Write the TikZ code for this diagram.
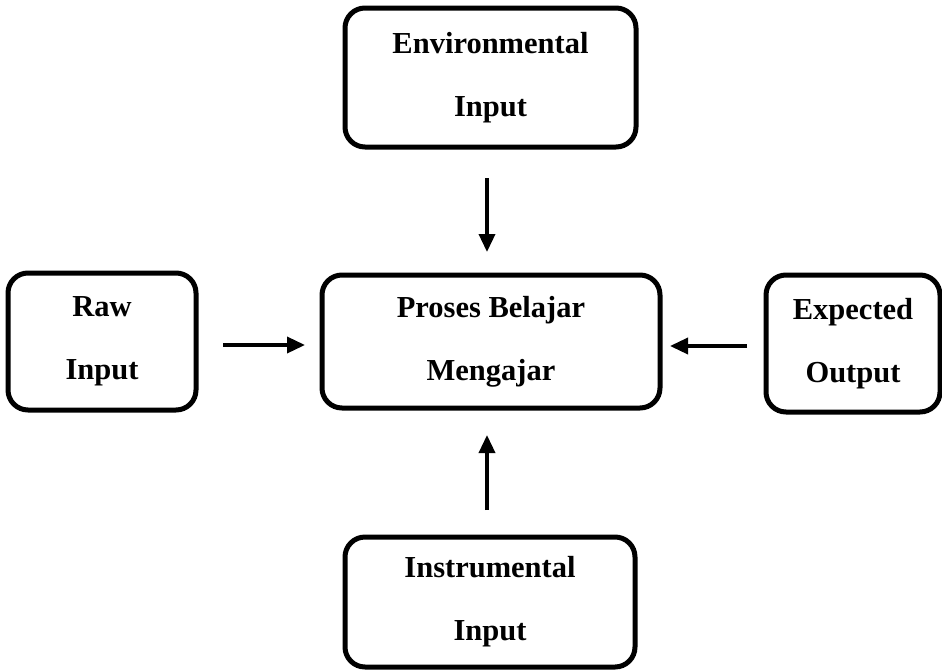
\documentclass[tikz,border=0pt]{standalone}
\usepackage{fontspec}
\setmainfont{Liberation Serif}
\usetikzlibrary{arrows.meta}
\begin{document}
\begin{tikzpicture}[x=1pt,y=-1pt,
  box/.style={draw, line width=5pt, rounded corners=20pt, inner sep=0pt, outer sep=0pt,
    align=center, font=\fontsize{30.5}{63}\selectfont\bfseries},
  arr/.style={line width=3.5pt, -{Triangle[length=18pt,width=16pt]}}]
\useasboundingbox (0,0) rectangle (942,670);
\node[box, minimum width=291pt, minimum height=139pt] (env) at (490.5,77.5) {Environmental\\Input};
\node[box, minimum width=338pt, minimum height=133pt] (mid) at (491,341.5) {Proses Belajar\\Mengajar};
\node[box, minimum width=188pt, minimum height=137pt] (raw) at (102,341.5) {Raw\\Input};
\node[box, minimum width=174pt, minimum height=137pt] (exp) at (853,343.5) {Expected\\Output};
\node[box, minimum width=290pt, minimum height=130pt] (ins) at (490,602) {Instrumental\\Input};
% arrows
\coordinate (envS) at ([xshift=-3.5pt]env.south);
\coordinate (midN) at (mid.north -| envS);
\draw[arr, shorten <=31pt, shorten >=23pt] (envS) -- (midN);
\coordinate (insN) at ([xshift=-3pt]ins.north);
\coordinate (midS) at (mid.south -| insN);
\draw[arr, shorten <=27pt, shorten >=27pt] (insN) -- (midS);
\coordinate (rawE) at ([yshift=-3.5pt]raw.east);
\coordinate (midW) at (mid.west |- rawE);
\draw[arr, shorten <=27pt, shorten >=17pt] (rawE) -- (midW);
\coordinate (midE) at ([yshift=-4.5pt]mid.east);
\coordinate (expW) at (exp.west |- midE);
\draw[arr, shorten <=19pt, shorten >=10pt] (expW) -- (midE);
\end{tikzpicture}
\end{document}
